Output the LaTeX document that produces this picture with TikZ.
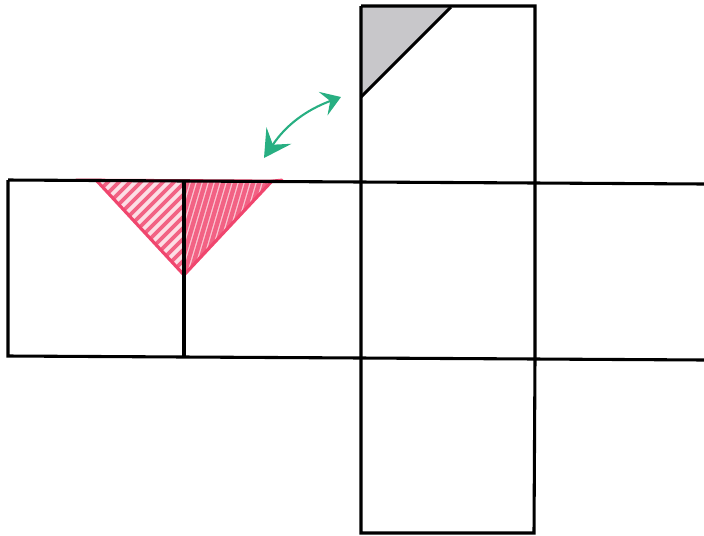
\documentclass[tikz,border=0pt]{standalone}
\usepackage{tikz}
\usetikzlibrary{arrows.meta,calc}
\definecolor{netred}{RGB}{240,70,110}
\definecolor{netgreen}{RGB}{40,175,130}
\definecolor{netgray}{RGB}{200,199,202}
\tikzset{
    edge/.style={draw=black,line width=1.75pt},
    hatch/.style={netred!85,line width=2.2pt,line cap=round},
    twoway/.style={{Stealth[length=5.4mm,width=6mm,inset=2.2mm]}-{Stealth[length=3.8mm,width=5mm,inset=1.5mm]},netgreen,line width=1.2pt}
}

\begin{document}
\begin{tikzpicture}[x=0.02cm,y=-0.02cm]
    \useasboundingbox (0,0) rectangle (704,535);
    % corners of the net
    \coordinate (tl) at (361,6);
    \coordinate (tr) at (535,6);
    \coordinate (ll) at (8,180);
    \coordinate (lb) at (8,356);
    \coordinate (mt) at (184,181);
    \coordinate (mb) at (184,357);
    \coordinate (cl) at (361,182);
    \coordinate (cr) at (535,183);
    \coordinate (bl) at (361,358);
    \coordinate (br) at (535,359);
    \coordinate (el) at (361,533);
    \coordinate (er) at (534,533);
    \coordinate (rt) at (704,184);
    \coordinate (rb) at (704,360);
    % gray corner
    \coordinate (ga) at (451,7);
    \coordinate (gb) at (361,97);
    \fill[netgray] (tl)--(ga)--(gb)--cycle;
    % red triangle
    \coordinate (ra) at (97,181);
    \coordinate (rc) at (272,181);
    \coordinate (rd) at (184,275);
    \fill[netred!18] (ra)--(mt)--(rd)--cycle;
    \fill[netred!30] (mt)--(rc)--(rd)--cycle;
    \begin{scope}
        \clip (ra)--(mt)--(rd)--cycle;
        \foreach \s in {290,301,...,460}
            \draw[hatch] (\s-180,180)--(\s-275,275);
    \end{scope}
    \begin{scope}
        \clip (mt)--(rc)--(rd)--cycle;
        \foreach \x in {160,166,...,272}
            \draw[hatch,line width=2.5pt] (\x,275)--(\x+28,180);
    \end{scope}
    \draw[netred,line width=1.6pt,line cap=round] (76,180)--(rc)--(282,180);
    \draw[netred,line width=1.8pt,line cap=round] (ra)--(rd)--(rc);
    % net lines
    \draw[edge] (ll)--(cl)--(cr)--(rt);
    \draw[edge] (ll)--(lb)--(mb)--(bl)--(br)--(rb);
    \draw[edge] (mt)--(mb);
    \draw[edge] (tl)--(tr)--(cr)--(br)--(er)--(el)--(bl)--(cl)--(tl);
    \draw[edge] (ga)--(gb);
    % green arrow
    \coordinate (aa) at (264,158);
    \coordinate (ab) at (341,97);
    \draw[twoway] (aa) to[bend left=18] (ab);
\end{tikzpicture}
\end{document}
